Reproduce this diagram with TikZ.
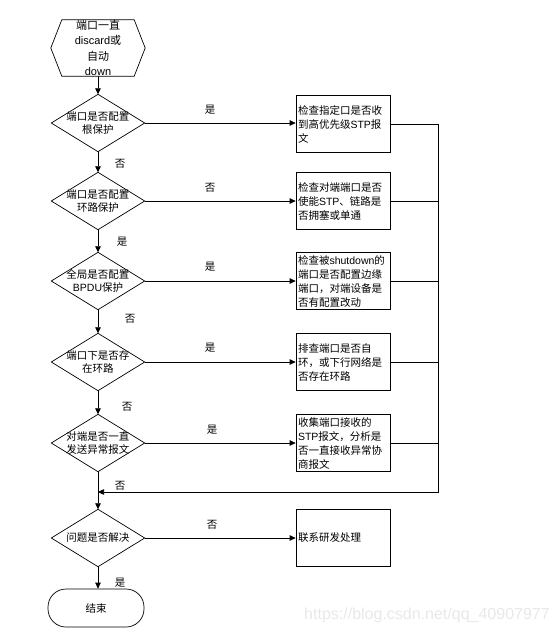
\documentclass[tikz,border=0pt]{standalone}
\usepackage{fontspec}
\setmainfont{Noto Sans CJK SC}
\newfontfamily\latf{Liberation Sans}
\newcommand\enw[1]{{\latf #1}}
\usetikzlibrary{arrows.meta}
\begin{document}
\begin{tikzpicture}[x=1pt,y=-1pt,
  hexa/.style={minimum width=94pt,minimum height=56pt,inner sep=0pt,align=center,
    font=\fontsize{11pt}{15.5pt}\selectfont},
  dia/.style={minimum width=93pt,minimum height=57pt,inner sep=0pt,align=center,
    font=\fontsize{10.5pt}{13pt}\selectfont},
  stepbox/.style={draw,line width=0.7pt,minimum width=94pt,minimum height=57pt,
    text width=90pt,inner sep=2pt,align=left,font=\fontsize{10.5pt}{14pt}\selectfont},
  term/.style={draw,line width=0.7pt,rounded corners=18pt,minimum width=96pt,
    minimum height=38pt,inner sep=0pt,font=\fontsize{10.5pt}{13pt}\selectfont},
  outline/.style={line width=0.7pt},
  arr/.style={-{Triangle[length=6pt,width=5.5pt]},line width=0.7pt},
  lnk/.style={line width=0.7pt},
  lbl/.style={inner sep=0pt,font=\fontsize{10.5pt}{12pt}\selectfont},
  wm/.style={inner sep=0pt,text=black!9,font=\latf\fontsize{16pt}{18pt}\selectfont}]
\useasboundingbox (0,0) rectangle (555,633);

% start hexagon
\node[hexa] (start) at (98,48) {端口一直\\\enw{discard}或\\自动\\\enw{down}};
\draw[outline] (start.west) -- ([xshift=11pt]start.north west) -- ([xshift=-11pt]start.north east)
  -- (start.east) -- ([xshift=-11pt]start.south east) -- ([xshift=11pt]start.south west) -- cycle;

% decisions
\node[dia] (d1) at (98,123) {端口是否配置\\根保护};
\node[dia] (d2) at (98,201) {端口是否配置\\环路保护};
\node[dia] (d3) at (98,281) {全局是否配置\\\enw{BPDU}保护};
\node[dia] (d4) at (98,362) {端口下是否存\\在环路};
\node[dia] (d5) at (98,443) {对端是否一直\\发送异常报文};
\node[dia] (d6) at (98,538) {问题是否解决};
\foreach \n in {d1,d2,d3,d4,d5,d6}
  \draw[outline] (\n.north) -- (\n.east) -- (\n.south) -- (\n.west) -- cycle;

% end
\node[term] (end) at (96,608) {结束};

% boxes
\node[stepbox] (b1) at (343,124) {检查指定口是否收\\到高优先级\enw{STP}报\\文};
\node[stepbox] (b2) at (343,201) {检查对端端口是否\\使能\enw{STP}、链路是\\否拥塞或单通};
\node[stepbox] (b3) at (343,281) {检查被\enw{shutdown}的\\端口是否配置边缘\\端口，对端设备是\\否有配置改动};
\node[stepbox] (b4) at (343,362) {排查端口是否自\\环，或下行网络是\\否存在环路};
\node[stepbox] (b5) at (343,443) {收集端口接收的\\\enw{STP}报文，分析是\\否一直接收异常协\\商报文};
\node[stepbox] (b6) at (343,538) {联系研发处理};

% main flow
\draw[arr] (start.south) -- (d1.north);
\draw[arr] (d1.south) -- (d2.north);
\draw[arr] (d2.south) -- (d3.north);
\draw[arr] (d3.south) -- (d4.north);
\draw[arr] (d4.south) -- (d5.north);
\draw[arr] (d5.south) -- (d6.north);
\draw[arr] (d6.south) -- (d6.south |- end.north);

% branches
\draw[arr] (d1.east) -- (d1.east -| b1.west);
\draw[arr] (d2.east) -- (d2.east -| b2.west);
\draw[arr] (d3.east) -- (d3.east -| b3.west);
\draw[arr] (d4.east) -- (d4.east -| b4.west);
\draw[arr] (d5.east) -- (d5.east -| b5.west);
\draw[arr] (d6.east) -- (d6.east -| b6.west);

% return line
\coordinate (r) at (438,492);
\coordinate (m) at (98,492);
\draw[arr] (b1.east) -| (r) -- (m);
\draw[lnk] (b2.east) -- (b2.east -| r);
\draw[lnk] (b3.east) -- (b3.east -| r);
\draw[lnk] (b4.east) -- (b4.east -| r);
\draw[lnk] (b5.east) -- (b5.east -| r);

% labels
\node[lbl] (l1) at (210,110) {是};
\node[lbl] (l2) at (120,164) {否};
\node[lbl] (l3) at (210,188) {否};
\node[lbl] (l4) at (122,242) {是};
\node[lbl] (l5) at (210,267) {是};
\node[lbl] (l6) at (130,319) {否};
\node[lbl] (l7) at (210,348) {是};
\node[lbl] (l8) at (127,407) {否};
\node[lbl] (l9) at (212,430) {是};
\node[lbl] (l10) at (120,486) {否};
\node[lbl] (l11) at (212,525) {否};
\node[lbl] (l12) at (120,583) {是};

% watermark
\node[wm] (wm) at (427,615) {https://blog.csdn.net/qq\_40907977};
\end{tikzpicture}
\end{document}
